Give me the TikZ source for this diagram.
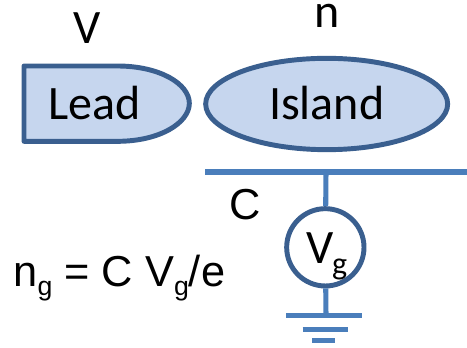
\documentclass[tikz,border=0pt]{standalone}
\usepackage{fontspec}
\setmainfont{Liberation Sans}
\newfontfamily\calibrifont{Carlito}
\usetikzlibrary{positioning, shapes.geometric}
\definecolor{islandfill}{HTML}{C6D6EE}
\definecolor{islandline}{HTML}{3A5F8F}
\definecolor{wireblue}{HTML}{4A7EBB}
\newcommand{\subarial}{\raisebox{-7pt}{\fontsize{20}{22}\selectfont g}}
\newcommand{\subcalibri}{\kern-1pt\raisebox{-8pt}{\fontsize{24}{26}\selectfont g}}
\tikzset{
  wire/.style={wireblue, line width=3.8pt},
  textlabel/.style={font=\fontsize{32.5}{34}\selectfont, inner sep=0pt},
  boxlabel/.style={font=\calibrifont\fontsize{36}{38}\selectfont, inner sep=0pt},
  dotbody/.style={draw=islandline, fill=islandfill, line width=3.7pt}
}
\begin{document}
\begin{tikzpicture}[x=1pt, y=-1pt]
  \useasboundingbox (0,0) rectangle (350.25,261);
  % Lead
  \draw[dotbody, line join=round] (18,49.5) -- (88,49.5)
    .. controls (120,49.5) and (142,63) .. (142,77.5) .. controls (142,92) and (120,106) .. (88,106) -- (18,106) -- cycle;
  \node[boxlabel, anchor=base] (lead) at (71,90) {Lead};
  \node[boxlabel, anchor=base] (leadv) at (65.5,32.5) {V};
  % Island
  \node[dotbody, ellipse, minimum width=181.5pt, minimum height=68.5pt, inner sep=0pt] (island) at (245,78) {};
  \node[boxlabel, anchor=base] (islandtext) at (245,90) {Island};
  \node[boxlabel, anchor=base] (islandn) at (245,21) {n};
  % Gate
  \coordinate (platel) at (154,129);
  \coordinate (plater) at (350.25,129);
  \draw[wire] (platel) -- (plater);
  \coordinate (platem) at (244.5,129);
  \node[circle, draw=islandline, line width=3.7pt, minimum size=58pt, inner sep=0pt] (source) at (244,185.5) {};
  \node[boxlabel, anchor=base west] (vg) at (229.5,198) {V\subcalibri};
  \draw[wire] (platem) -- (source);
  \node[textlabel] (cap) at (184,153.5) {C};
  \node[textlabel, anchor=base west] (ng) at (10,215) {n\subarial{} = C V\subarial/e};
  % Ground
  \coordinate (gndtop) at (244.5,236.5);
  \coordinate (gnda) at (214.5,236.5);
  \coordinate (gndb) at (271.5,236.5);
  \coordinate (gndc) at (227,247);
  \coordinate (gndd) at (261,247);
  \coordinate (gnde) at (234,255.5);
  \coordinate (gndf) at (251,255.5);
  \draw[wire] (source) -- (gndtop);
  \draw[wire] (gnda) -- (gndb);
  \draw[wire] (gndc) -- (gndd);
  \draw[wire] (gnde) -- (gndf);
\end{tikzpicture}
\end{document}
